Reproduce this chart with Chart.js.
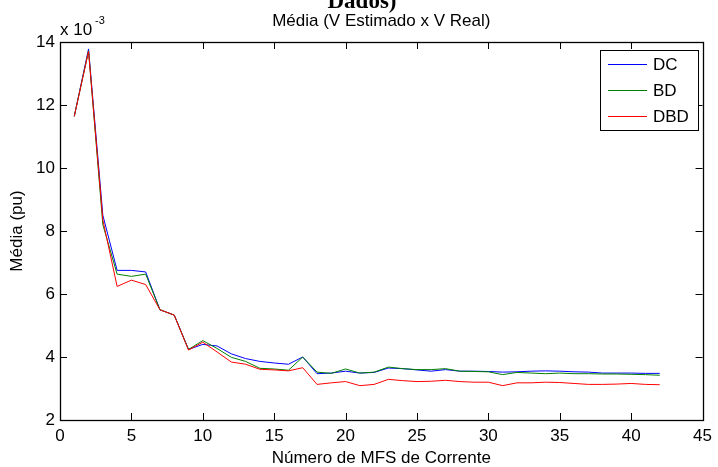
<!DOCTYPE html>
<html>
<head>
<meta charset="utf-8">
<script src="https://cdn.jsdelivr.net/npm/chart.js@4/dist/chart.umd.min.js"></script>
<style>
  body { margin: 0; background: #fff; }
  #wrap { width: 718px; height: 467px; }
</style>
</head>
<body>
<div id="wrap"><canvas id="chart" width="718" height="467"></canvas></div>
<script>
// values are in units of 10^-3 pu
const mfs = [1, 2, 3, 4, 5, 6, 7, 8, 9, 10, 11, 12, 13, 14, 15, 16, 17, 18, 19, 20, 21,
  22, 23, 24, 25, 26, 27, 28, 29, 30, 31, 32, 33, 34, 35, 36, 37, 38, 39, 40, 41, 42];
const dc = [11.64, 13.78, 8.50, 6.75, 6.75, 6.70, 5.50, 5.33, 4.24, 4.40, 4.35, 4.10, 3.95, 3.86,
  3.81, 3.77, 4.00, 3.47, 3.49, 3.55, 3.49, 3.51, 3.65, 3.63, 3.59, 3.55, 3.60, 3.55, 3.55, 3.54,
  3.52, 3.53, 3.55, 3.56, 3.55, 3.53, 3.52, 3.49, 3.49, 3.49, 3.48, 3.48];
const bd = [11.64, 13.72, 8.20, 6.63, 6.56, 6.63, 5.50, 5.33, 4.24, 4.52, 4.27, 3.99, 3.86, 3.64,
  3.62, 3.58, 4.00, 3.52, 3.48, 3.62, 3.49, 3.52, 3.68, 3.63, 3.60, 3.60, 3.63, 3.55, 3.54, 3.53,
  3.44, 3.51, 3.49, 3.47, 3.49, 3.47, 3.47, 3.46, 3.46, 3.45, 3.44, 3.42];
const dbd = [11.64, 13.70, 8.35, 6.24, 6.44, 6.30, 5.50, 5.33, 4.22, 4.47, 4.16, 3.84, 3.77, 3.61,
  3.59, 3.56, 3.66, 3.13, 3.18, 3.22, 3.09, 3.13, 3.29, 3.25, 3.22, 3.23, 3.26, 3.22, 3.20, 3.20,
  3.09, 3.18, 3.18, 3.20, 3.19, 3.16, 3.13, 3.13, 3.14, 3.16, 3.13, 3.12];
const xTicks = [0, 5, 10, 15, 20, 25, 30, 35, 40, 45];
const yTicks = [2, 4, 6, 8, 10, 12, 14];

const FONT = "'Liberation Sans', Arial, sans-serif";

const series = (vals) => mfs.map((x, i) => ({ x: x, y: vals[i] }));

// axes box, inward ticks, titles and legend (MATLAB look)
const matlabDecor = {
  id: 'matlabDecor',
  afterDraw(chart) {
    const ctx = chart.ctx;
    const a = chart.chartArea;
    const xs = chart.scales.x, ys = chart.scales.y;
    ctx.save();
    ctx.strokeStyle = '#000';
    ctx.lineWidth = 1;
    ctx.beginPath();
    xTicks.forEach(t => {
      const px = Math.round(xs.getPixelForValue(t)) + 0.5;
      ctx.moveTo(px, a.bottom); ctx.lineTo(px, a.bottom - 7);
      ctx.moveTo(px, a.top); ctx.lineTo(px, a.top + 7);
    });
    yTicks.forEach(t => {
      const py = Math.round(ys.getPixelForValue(t)) + 0.5;
      ctx.moveTo(a.left, py); ctx.lineTo(a.left + 7, py);
      ctx.moveTo(a.right, py); ctx.lineTo(a.right - 7, py);
    });
    ctx.stroke();
    ctx.lineWidth = 1.3;
    ctx.strokeRect(Math.round(a.left) + 0.5, Math.round(a.top) + 0.5,
      Math.round(a.right - a.left), Math.round(a.bottom - a.top));

    ctx.fillStyle = '#000';
    ctx.textAlign = 'center';
    ctx.textBaseline = 'alphabetic';
    const cx = (a.left + a.right) / 2;
    ctx.font = 'bold 23px "Liberation Serif", serif';
    ctx.fillText('Dados)', 362, 8);
    ctx.font = '17px ' + FONT;
    ctx.fillText('Média (V Estimado x V Real)', cx, 26);
    ctx.fillText('Número de MFS de Corrente', cx, 463);

    ctx.save();
    ctx.translate(22, (a.top + a.bottom) / 2);
    ctx.rotate(-Math.PI / 2);
    ctx.fillText('Média (pu)', 0, 0);
    ctx.restore();

    ctx.textAlign = 'left';
    ctx.fillText('x 10', 60, 35);
    ctx.font = '11px ' + FONT;
    ctx.fillText('-3', 95, 24);

    // legend
    const lx = 600.5, ly = 50.5, lw = 98, lh = 80;
    ctx.fillStyle = '#fff';
    ctx.fillRect(lx, ly, lw, lh);
    ctx.lineWidth = 1;
    ctx.strokeStyle = '#000';
    ctx.strokeRect(lx, ly, lw, lh);
    ctx.font = '17px ' + FONT;
    ctx.textBaseline = 'middle';
    chart.data.datasets.forEach((ds, i) => {
      const ry = 64 + i * 26;
      ctx.strokeStyle = ds.borderColor;
      ctx.beginPath();
      ctx.moveTo(608, ry + 0.5); ctx.lineTo(647, ry + 0.5);
      ctx.stroke();
      ctx.fillStyle = '#000';
      ctx.fillText(ds.label, 653, ry + 1);
    });
    ctx.restore();
  }
};

new Chart(document.getElementById('chart'), {
  type: 'line',
  data: {
    // order: DBD drawn last (on top), as in the original plot
    datasets: [
      { label: 'DC', data: series(dc), borderColor: '#0000ff', order: 3 },
      { label: 'BD', data: series(bd), borderColor: '#008000', order: 2 },
      { label: 'DBD', data: series(dbd), borderColor: '#ff0000', order: 1 }
    ].map(d => Object.assign(d, { borderWidth: 1, pointRadius: 0, tension: 0, fill: false }))
  },
  options: {
    responsive: false,
    animation: false,
    layout: { padding: { top: 42, right: 14, left: 0, bottom: 0 } },
    plugins: { legend: { display: false }, title: { display: false }, tooltip: { enabled: false } },
    scales: {
      x: {
        type: 'linear', min: 0, max: 45,
        afterFit: s => { s.height = 47; },
        afterBuildTicks: s => { s.ticks = xTicks.map(v => ({ value: v })); },
        grid: { display: false, drawTicks: false },
        border: { display: false },
        ticks: { color: '#000', padding: 6, maxRotation: 0, font: { family: FONT, size: 17 } }
      },
      y: {
        type: 'linear', min: 2, max: 14,
        afterFit: s => { s.width = 60; },
        afterBuildTicks: s => { s.ticks = yTicks.map(v => ({ value: v })); },
        grid: { display: false, drawTicks: false },
        border: { display: false },
        ticks: { color: '#000', padding: 5, font: { family: FONT, size: 17 } }
      }
    }
  },
  plugins: [matlabDecor]
});
</script>
</body>
</html>
